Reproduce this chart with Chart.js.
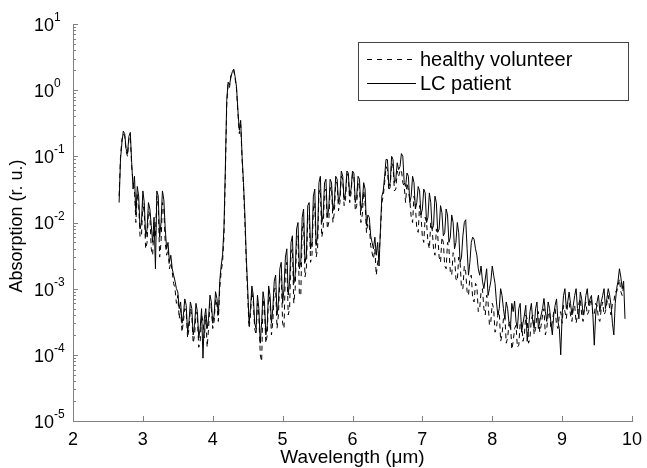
<!DOCTYPE html>
<html>
<head>
<meta charset="utf-8">
<script src="https://cdn.jsdelivr.net/npm/chart.js@4.4.1/dist/chart.umd.min.js"></script>
<style>
body { margin: 0; background: #fff; }
#wrap { width: 647px; height: 468px; }
</style>
</head>
<body>
<div id="wrap"><canvas id="grafico" width="647" height="468"></canvas></div>
<script>
// wavelength grid (um)
const wavelength = [
    2.66,2.68,2.70,2.72,2.74,2.76,2.78,2.80,2.82,2.84,
    2.86,2.88,2.90,2.92,2.94,2.96,2.98,3.00,3.02,3.04,
    3.06,3.08,3.10,3.12,3.14,3.16,3.18,3.20,3.22,3.24,
    3.26,3.28,3.30,3.32,3.34,3.36,3.38,3.40,3.42,3.44,
    3.46,3.48,3.50,3.52,3.54,3.56,3.58,3.60,3.62,3.64,
    3.66,3.68,3.70,3.72,3.74,3.76,3.78,3.80,3.82,3.84,
    3.86,3.88,3.90,3.92,3.94,3.96,3.98,4.00,4.02,4.04,
    4.06,4.08,4.10,4.12,4.14,4.16,4.18,4.20,4.22,4.24,
    4.26,4.28,4.30,4.32,4.34,4.36,4.38,4.40,4.42,4.44,
    4.46,4.48,4.50,4.52,4.54,4.56,4.58,4.60,4.62,4.64,
    4.66,4.68,4.70,4.72,4.74,4.76,4.78,4.80,4.82,4.84,
    4.86,4.88,4.90,4.92,4.94,4.96,4.98,5.00,5.02,5.04,
    5.06,5.08,5.10,5.12,5.14,5.16,5.18,5.20,5.22,5.24,
    5.26,5.28,5.30,5.32,5.34,5.36,5.38,5.40,5.42,5.44,
    5.46,5.48,5.50,5.52,5.54,5.56,5.58,5.60,5.62,5.64,
    5.66,5.68,5.70,5.72,5.74,5.76,5.78,5.80,5.82,5.84,
    5.86,5.88,5.90,5.92,5.94,5.96,5.98,6.00,6.02,6.04,
    6.06,6.08,6.10,6.12,6.14,6.16,6.18,6.20,6.22,6.24,
    6.26,6.28,6.30,6.32,6.34,6.36,6.38,6.40,6.42,6.44,
    6.46,6.48,6.50,6.52,6.54,6.56,6.58,6.60,6.62,6.64,
    6.66,6.68,6.70,6.72,6.74,6.76,6.78,6.80,6.82,6.84,
    6.86,6.88,6.90,6.92,6.94,6.96,6.98,7.00,7.02,7.04,
    7.06,7.08,7.10,7.12,7.14,7.16,7.18,7.20,7.22,7.24,
    7.26,7.28,7.30,7.32,7.34,7.36,7.38,7.40,7.42,7.44,
    7.46,7.48,7.50,7.52,7.54,7.56,7.58,7.60,7.62,7.64,
    7.66,7.68,7.70,7.72,7.74,7.76,7.78,7.80,7.82,7.84,
    7.86,7.88,7.90,7.92,7.94,7.96,7.98,8.00,8.02,8.04,
    8.06,8.08,8.10,8.12,8.14,8.16,8.18,8.20,8.22,8.24,
    8.26,8.28,8.30,8.32,8.34,8.36,8.38,8.40,8.42,8.44,
    8.46,8.48,8.50,8.52,8.54,8.56,8.58,8.60,8.62,8.64,
    8.66,8.68,8.70,8.72,8.74,8.76,8.78,8.80,8.82,8.84,
    8.86,8.88,8.90,8.92,8.94,8.96,8.98,9.00,9.02,9.04,
    9.06,9.08,9.10,9.12,9.14,9.16,9.18,9.20,9.22,9.24,
    9.26,9.28,9.30,9.32,9.34,9.36,9.38,9.40,9.42,9.44,
    9.46,9.48,9.50,9.52,9.54,9.56,9.58,9.60,9.62,9.64,
    9.66,9.68,9.70,9.72,9.74,9.76,9.78,9.80,9.82,9.84,
    9.86,9.88,9.90
];

const healthyVolunteer = [
    0.025,0.1,0.18,0.22,0.2,0.12,0.1,0.18,0.2,0.07,
    0.04,0.03,0.01,0.028,0.018,0.006,6.3e-3,0.02,0.014,0.004,
    5e-3,0.015,0.013,0.004,3.2e-3,0.01,6.3e-3,0.025,0.018,0.003,
    5e-3,0.02,0.016,0.005,3.2e-3,4e-3,2e-3,2.5e-3,1.8e-3,1.2e-3,
    1e-3,6e-4,7.9e-4,3.5e-4,5e-4,2.2e-4,3.2e-4,5e-4,4.5e-4,1.8e-4,
    2.5e-4,5e-4,4e-4,1.5e-4,2e-4,4.5e-4,3.5e-4,1.3e-4,1.6e-4,4e-4,
    3.2e-4,1.8e-4,4e-4,1.3e-4,2.5e-4,6e-4,5e-4,2.5e-4,3.2e-4,7e-4,
    5.6e-4,3.2e-4,1e-3,1.8e-3,2.5e-3,6e-3,0.05,0.6,1.26,1.1,
    1.66,1.8,2.0,1.5,1.05,0.45,0.22,0.3,0.089,0.035,
    0.01,2.5e-3,7.9e-4,2.5e-4,4e-4,9e-4,6.3e-4,2.5e-4,2e-4,6e-4,
    4e-4,1e-4,7.9e-5,7e-4,5e-4,1.5e-4,2e-4,9e-4,6.3e-4,2e-4,
    3.2e-4,1e-3,1e-3,2.5e-4,4e-4,1.4e-3,1.6e-3,3e-4,2.5e-4,2e-3,
    2.5e-3,4e-4,5e-4,3.5e-3,4e-3,6e-4,1e-3,5e-3,6.3e-3,8e-4,
    7.9e-4,8e-3,0.01,1.5e-3,2e-3,0.012,0.013,2.5e-3,3.2e-3,0.016,
    0.02,3e-3,4e-3,0.028,0.032,6e-3,7.9e-3,0.03,0.032,8e-3,
    0.01,0.032,0.035,0.01,0.014,0.04,0.04,0.015,0.02,0.05,
    0.045,0.018,0.022,0.055,0.05,0.02,0.028,0.055,0.05,0.015,
    0.018,0.04,0.035,0.01,0.013,0.03,0.02,0.007,0.01,0.009,
    4.5e-3,3.5e-3,2.8e-3,4e-3,1.6e-3,2.5e-3,3.2e-3,7e-3,0.02,0.025,
    0.04,0.07,0.063,0.03,0.035,0.08,0.071,0.03,0.032,0.06,
    0.05,0.06,0.063,0.04,0.035,0.02,0.04,0.03,0.022,0.012,
    0.01,0.025,0.018,0.008,7.1e-3,0.018,0.013,0.006,5e-3,0.012,
    0.01,0.005,4e-3,0.01,7.9e-3,0.004,3.2e-3,0.008,6.3e-3,0.003,
    2.5e-3,6e-3,5e-3,2.2e-3,2e-3,5e-3,4e-3,1.8e-3,1.6e-3,3.5e-3,
    3.2e-3,1.4e-3,1.3e-3,3e-3,2.5e-3,1e-3,1e-3,2.2e-3,1.8e-3,9e-4,
    7.9e-4,1.5e-3,1.6e-3,7e-4,6.3e-4,1.2e-3,1.1e-3,4.5e-4,5e-4,9e-4,
    1e-3,5e-4,4e-4,8e-4,6.3e-4,2.8e-4,3.2e-4,6e-4,5e-4,2.2e-4,
    2.5e-4,4e-4,4.5e-4,1.6e-4,2e-4,3.5e-4,4e-4,1.5e-4,1.8e-4,3e-4,
    3.2e-4,1.2e-4,1.6e-4,2.5e-4,2.8e-4,1.3e-4,1.4e-4,3e-4,3.2e-4,1.6e-4,
    2e-4,4e-4,3.5e-4,1.5e-4,1.8e-4,3.5e-4,4e-4,2e-4,2.5e-4,4e-4,
    4.5e-4,2.2e-4,2.8e-4,4e-4,5e-4,2e-4,2.5e-4,4e-4,4.5e-4,2.5e-4,
    3.2e-4,4.5e-4,5e-4,2.8e-4,2.5e-4,4e-4,4.5e-4,3e-4,5.6e-4,4.5e-4,
    3.5e-4,6e-4,6.3e-4,4e-4,3.2e-4,5e-4,5.6e-4,3e-4,4e-4,6e-4,
    7.1e-4,4e-4,3.2e-4,5e-4,6.3e-4,4e-4,4.5e-4,6e-4,7.1e-4,4e-4,
    4e-4,6e-4,5.6e-4,3.5e-4,3.2e-4,5e-4,6.3e-4,4e-4,4.5e-4,6e-4,
    7.9e-4,5e-4,4e-4,6e-4,6.3e-4,9e-4,8.9e-4,1.1e-3,1.4e-3,9e-4,
    7.9e-4,1.1e-3,1e-3
];

const lcPatient = [
    0.02,0.09,0.16,0.24,0.22,0.13,0.11,0.2,0.23,0.08,
    0.032,0.05,0.013,0.035,0.025,0.008,0.01,0.03,0.02,0.006,
    7.9e-3,0.02,0.016,0.009,5e-3,0.012,2e-3,0.03,0.025,0.006,
    0.01,0.03,0.022,0.008,4e-3,5e-3,2.5e-3,3.2e-3,2e-3,1.6e-3,
    1.3e-3,1e-3,8.9e-4,5e-4,6.3e-4,3e-4,4e-4,7e-4,5.6e-4,2.2e-4,
    3.2e-4,6.3e-4,5e-4,2e-4,2.8e-4,6e-4,4.5e-4,1.8e-4,2.5e-4,5e-4,
    8.9e-5,3.5e-4,5e-4,2.5e-4,3.5e-4,8e-4,6.3e-4,3e-4,4e-4,9e-4,
    7.1e-4,4e-4,1.3e-3,2.2e-3,3.2e-3,8e-3,0.063,0.7,1.32,1.2,
    1.58,1.9,2.09,1.6,1.12,0.5,0.25,0.35,0.1,0.04,
    0.013,3e-3,1e-3,3e-4,5e-4,1.1e-3,7.9e-4,3e-4,2.5e-4,8e-4,
    5e-4,1.5e-4,3.2e-4,9e-4,6.3e-4,2e-4,2.8e-4,1.1e-3,7.9e-4,3e-4,
    5e-4,1.3e-3,1.6e-3,4e-4,6.3e-4,2e-3,2.5e-3,6e-4,1e-3,3e-3,
    4e-3,8e-4,1.3e-3,5e-3,6.3e-3,1.2e-3,1.6e-3,8e-3,0.01,2e-3,
    2.5e-3,0.012,0.016,2.5e-3,3.2e-3,0.018,0.02,4e-3,5e-3,0.025,
    0.032,4.5e-3,6.3e-3,0.04,0.05,0.01,0.013,0.04,0.045,0.012,
    0.016,0.045,0.04,0.015,0.02,0.05,0.045,0.02,0.025,0.06,
    0.05,0.022,0.028,0.06,0.056,0.025,0.032,0.06,0.056,0.02,
    0.025,0.05,0.045,0.015,0.02,0.04,0.032,0.009,0.013,0.012,
    6.3e-3,5e-3,4e-3,6e-3,3.2e-3,5e-3,2.2e-3,8e-3,0.025,0.03,
    0.05,0.09,0.089,0.035,0.04,0.1,0.089,0.04,0.045,0.08,
    0.063,0.07,0.11,0.1,0.04,0.035,0.056,0.05,0.02,0.025,
    0.05,0.04,0.016,0.02,0.035,0.03,0.013,0.016,0.032,0.028,
    0.01,0.012,0.028,0.02,7.9e-3,9e-3,0.025,0.02,7.1e-3,8e-3,
    0.018,0.014,6.3e-3,7e-3,0.016,0.013,5e-3,6e-3,0.013,0.01,
    4e-3,5e-3,0.01,7e-3,2.5e-3,3e-3,6.3e-3,0.01,0.011,4e-3,
    1.6e-3,2.5e-3,5e-3,6e-3,5.6e-3,4e-3,3.2e-3,2e-3,1.6e-3,2.2e-3,
    1.3e-3,1e-3,1.4e-3,2e-3,7.9e-4,1e-3,1.3e-3,2.2e-3,1.6e-3,1.2e-3,
    6.3e-4,4e-4,5e-4,1e-3,7.9e-4,5e-4,3.5e-4,6.3e-4,5e-4,3e-4,
    2.5e-4,6e-4,4.5e-4,6.5e-4,3.2e-4,2.5e-4,5e-4,6e-4,2.2e-4,3e-4,
    4e-4,5.6e-4,1.6e-4,2.5e-4,4.5e-4,6e-4,3.2e-4,2.5e-4,5e-4,6.3e-4,
    2.5e-4,3.2e-4,4e-4,5e-4,7.1e-4,4.5e-4,3.2e-4,6.3e-4,5e-4,3e-4,
    2e-4,4e-4,5.6e-4,7e-4,3.2e-4,2.5e-4,1e-4,4e-4,7.9e-4,1e-3,
    5e-4,6.3e-4,8.9e-4,6e-4,4e-4,5.6e-4,7.9e-4,1e-3,5e-4,3.5e-4,
    8.9e-4,7e-4,4e-4,5e-4,7.9e-4,1e-3,5.6e-4,7e-4,7.9e-4,4e-4,
    1.4e-4,4e-4,6.3e-4,8e-4,4.5e-4,6.3e-4,7.9e-4,1e-3,5e-4,7e-4,
    1e-3,8e-4,5.6e-4,3e-4,2e-4,6e-4,1e-3,1.3e-3,2e-3,1.5e-3,
    1e-3,1.3e-3,3.5e-4
];

const xTicks = [2, 3, 4, 5, 6, 7, 8, 9, 10];
const yExponents = [-5, -4, -3, -2, -1, 0, 1];
const seriesNames = ['healthy volunteer', 'LC patient'];

const FONT = "'Liberation Sans', Arial, sans-serif";
const AXIS_COLOR = '#808080';

// ticks, tick labels with exponents, titles and legend box (MATLAB look)
const matlabAxes = {
    id: 'matlabAxes',
    afterDraw(chart) {
        const ctx = chart.ctx;
        const xs = chart.scales.x;
        const ys = chart.scales.y;
        const area = chart.chartArea;

        ctx.save();
        ctx.strokeStyle = AXIS_COLOR;
        ctx.lineWidth = 1;

        xTicks.forEach(v => {
            const px = Math.round(xs.getPixelForValue(v)) + 0.5;
            ctx.beginPath();
            ctx.moveTo(px, area.bottom);
            ctx.lineTo(px, area.bottom - 5);
            ctx.stroke();
        });

        yExponents.forEach((e, i) => {
            const py = Math.round(ys.getPixelForValue(Math.pow(10, e))) + 0.5;
            ctx.beginPath();
            ctx.moveTo(area.left, py);
            ctx.lineTo(area.left + 5, py);
            ctx.stroke();
            if (i < yExponents.length - 1) {
                for (let m = 2; m <= 9; m++) {
                    const pm = Math.round(ys.getPixelForValue(m * Math.pow(10, e))) + 0.5;
                    ctx.beginPath();
                    ctx.moveTo(area.left, pm);
                    ctx.lineTo(area.left + 3, pm);
                    ctx.stroke();
                }
            }
        });

        // y tick labels 10^n
        ctx.fillStyle = '#000';
        yExponents.forEach(e => {
            const py = ys.getPixelForValue(Math.pow(10, e));
            ctx.font = '18px ' + FONT;
            ctx.textAlign = 'left';
            ctx.textBaseline = 'middle';
            ctx.fillText('10', 34, py + 2);
            const w = ctx.measureText('10').width;
            ctx.font = '12px ' + FONT;
            ctx.textBaseline = 'alphabetic';
            ctx.fillText(String(e), 34 + w, py - 3);
        });

        // axis titles
        ctx.font = '19px ' + FONT;
        ctx.textAlign = 'center';
        ctx.textBaseline = 'middle';
        ctx.fillText('Wavelength (\u03bcm)', (area.left + area.right) / 2, 458);
        ctx.font = '18px ' + FONT;
        ctx.save();
        ctx.translate(17, 226);
        ctx.rotate(-Math.PI / 2);
        ctx.fillText('Absorption (r. u.)', 0, 0);
        ctx.restore();

        // legend
        ctx.fillStyle = '#fff';
        ctx.fillRect(358, 42, 270, 58);
        ctx.strokeStyle = '#444';
        ctx.strokeRect(358.5, 42.5, 270, 58);
        ctx.strokeStyle = '#000';
        const rows = [59, 83];
        rows.forEach((ry, i) => {
            ctx.setLineDash(i === 0 ? [5, 5] : []);
            ctx.beginPath();
            ctx.moveTo(367, ry + 0.5);
            ctx.lineTo(416, ry + 0.5);
            ctx.stroke();
        });
        ctx.setLineDash([]);
        ctx.font = '20px ' + FONT;
        ctx.fillStyle = '#000';
        ctx.textAlign = 'left';
        ctx.textBaseline = 'middle';
        seriesNames.forEach((name, i) => ctx.fillText(name, 420, rows[i] + 1));
        ctx.restore();
    }
};

const pontos = serie => wavelength.map((w, i) => ({ x: w, y: serie[i] }));

new Chart(document.getElementById('grafico').getContext('2d'), {
    type: 'line',
    data: {
        datasets: [
            { label: seriesNames[0], data: pontos(healthyVolunteer), borderColor: '#000', borderWidth: 1, borderDash: [5, 4], pointRadius: 0, fill: false, tension: 0 },
            { label: seriesNames[1], data: pontos(lcPatient), borderColor: '#000', borderWidth: 1, pointRadius: 0, fill: false, tension: 0 }
        ]
    },
    options: {
        responsive: false,
        animation: false,
        devicePixelRatio: 1,
        layout: { padding: { top: 24, right: 15, left: 0, bottom: 0 } },
        plugins: { legend: { display: false }, tooltip: { enabled: false } },
        scales: {
            x: {
                type: 'linear',
                min: 2,
                max: 10,
                grid: { display: false },
                border: { color: AXIS_COLOR },
                ticks: {
                    stepSize: 1,
                    autoSkip: false,
                    maxRotation: 0,
                    padding: 0,
                    color: '#000',
                    font: { size: 18, family: FONT }
                },
                afterFit: s => { s.height = 47; }
            },
            y: {
                type: 'logarithmic',
                min: 1e-5,
                max: 10,
                grid: { display: false },
                border: { color: AXIS_COLOR },
                afterBuildTicks: s => { s.ticks = yExponents.map(e => ({ value: Math.pow(10, e) })); },
                ticks: { callback: () => '' },
                afterFit: s => { s.width = 73; }
            }
        }
    },
    plugins: [matlabAxes]
});
</script>
</body>
</html>
